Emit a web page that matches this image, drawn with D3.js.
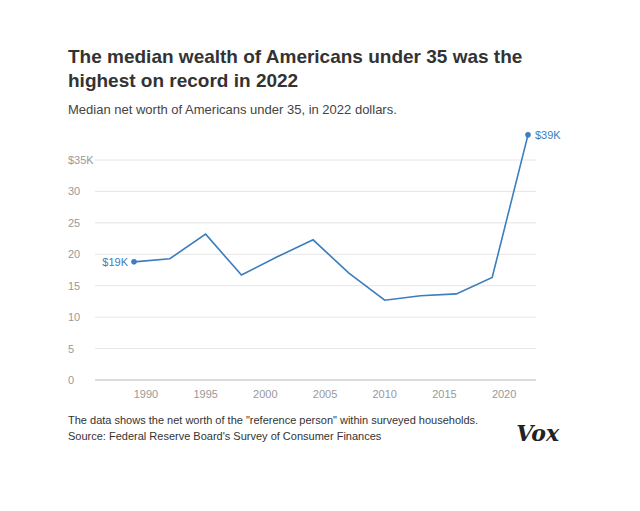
<!DOCTYPE html>
<html><head><meta charset="utf-8">
<script src="https://cdn.jsdelivr.net/npm/d3@7"></script>
<style>body{margin:0;background:#fff;font-family:"Liberation Sans",Arial,sans-serif}</style>
</head><body>
<svg id="chart" width="640" height="511"></svg>
<script>
const years = [1989, 1992, 1995, 1998, 2001, 2004, 2007, 2010, 2013, 2016, 2019, 2022];
const worth = [18.8, 19.3, 23.2, 16.7, 19.6, 22.3, 17.0, 12.7, 13.4, 13.7, 16.3, 39.0];
const yTicks = [0, 5, 10, 15, 20, 25, 30, 35];
const xTicks = [1990, 1995, 2000, 2005, 2010, 2015, 2020];

const svg = d3.select('#chart');
const color = '#3b7dbd';

const x = d3.scaleLinear().domain([1989, 2022]).range([134, 528]);
const y = d3.scaleLinear().domain([0, 35]).range([380, 160]);

svg.append('text').attr('x', 68).attr('y', 63).text('The median wealth of Americans under 35 was the')
    .style('font-size', '19px').style('font-weight', 'bold').style('fill', '#333');
svg.append('text').attr('x', 68).attr('y', 87).text('highest on record in 2022')
    .style('font-size', '19px').style('font-weight', 'bold').style('fill', '#333');
svg.append('text').attr('x', 68).attr('y', 114).text('Median net worth of Americans under 35, in 2022 dollars.')
    .style('font-size', '13px').style('fill', '#444');

svg.append('g').selectAll('line').data(yTicks).enter().append('line')
    .attr('x1', 95).attr('x2', 536)
    .attr('y1', d => y(d)).attr('y2', d => y(d))
    .style('stroke', d => d === 0 ? '#bbb' : '#e6e6e6');

svg.append('g').selectAll('text').data(yTicks).enter().append('text')
    .attr('x', 68).attr('y', d => y(d) + 4)
    .text(d => d === 35 ? '$35K' : d)
    .style('font-size', '11px').style('fill', '#999');

svg.append('g').selectAll('text').data(xTicks).enter().append('text')
    .attr('x', d => x(d)).attr('y', 398).attr('text-anchor', 'middle')
    .text(d => d)
    .style('font-size', '11px').style('fill', '#999');

const line = d3.line().x((d, i) => x(years[i])).y(d => y(d));
svg.append('path').attr('d', line(worth))
    .style('fill', 'none').style('stroke', color).style('stroke-width', 1.6);

const ends = [0, worth.length - 1];
svg.selectAll('circle').data(ends).enter().append('circle')
    .attr('cx', i => x(years[i])).attr('cy', i => y(worth[i])).attr('r', 2.8)
    .style('fill', color);

svg.append('text').attr('x', x(years[0]) - 6).attr('y', y(worth[0]) + 4)
    .attr('text-anchor', 'end').text('$19K').style('font-size', '11px').style('fill', color);
svg.append('text').attr('x', x(years[11]) + 7).attr('y', y(worth[11]) + 4)
    .text('$39K').style('font-size', '11px').style('fill', color);

svg.append('text').attr('x', 68).attr('y', 424)
    .text('The data shows the net worth of the "reference person" within surveyed households.')
    .style('font-size', '11px').style('fill', '#333');
svg.append('text').attr('x', 68).attr('y', 440)
    .text("Source: Federal Reserve Board's Survey of Consumer Finances")
    .style('font-size', '11px').style('fill', '#333');
svg.append('text').attr('x', 559).attr('y', 441).attr('text-anchor', 'end')
    .text('Vox').style('font-family', '"DejaVu Serif",serif').style('font-size', '22px')
    .style('font-weight', 'bold').style('font-style', 'italic').style('fill', '#222');
</script>
</body></html>
